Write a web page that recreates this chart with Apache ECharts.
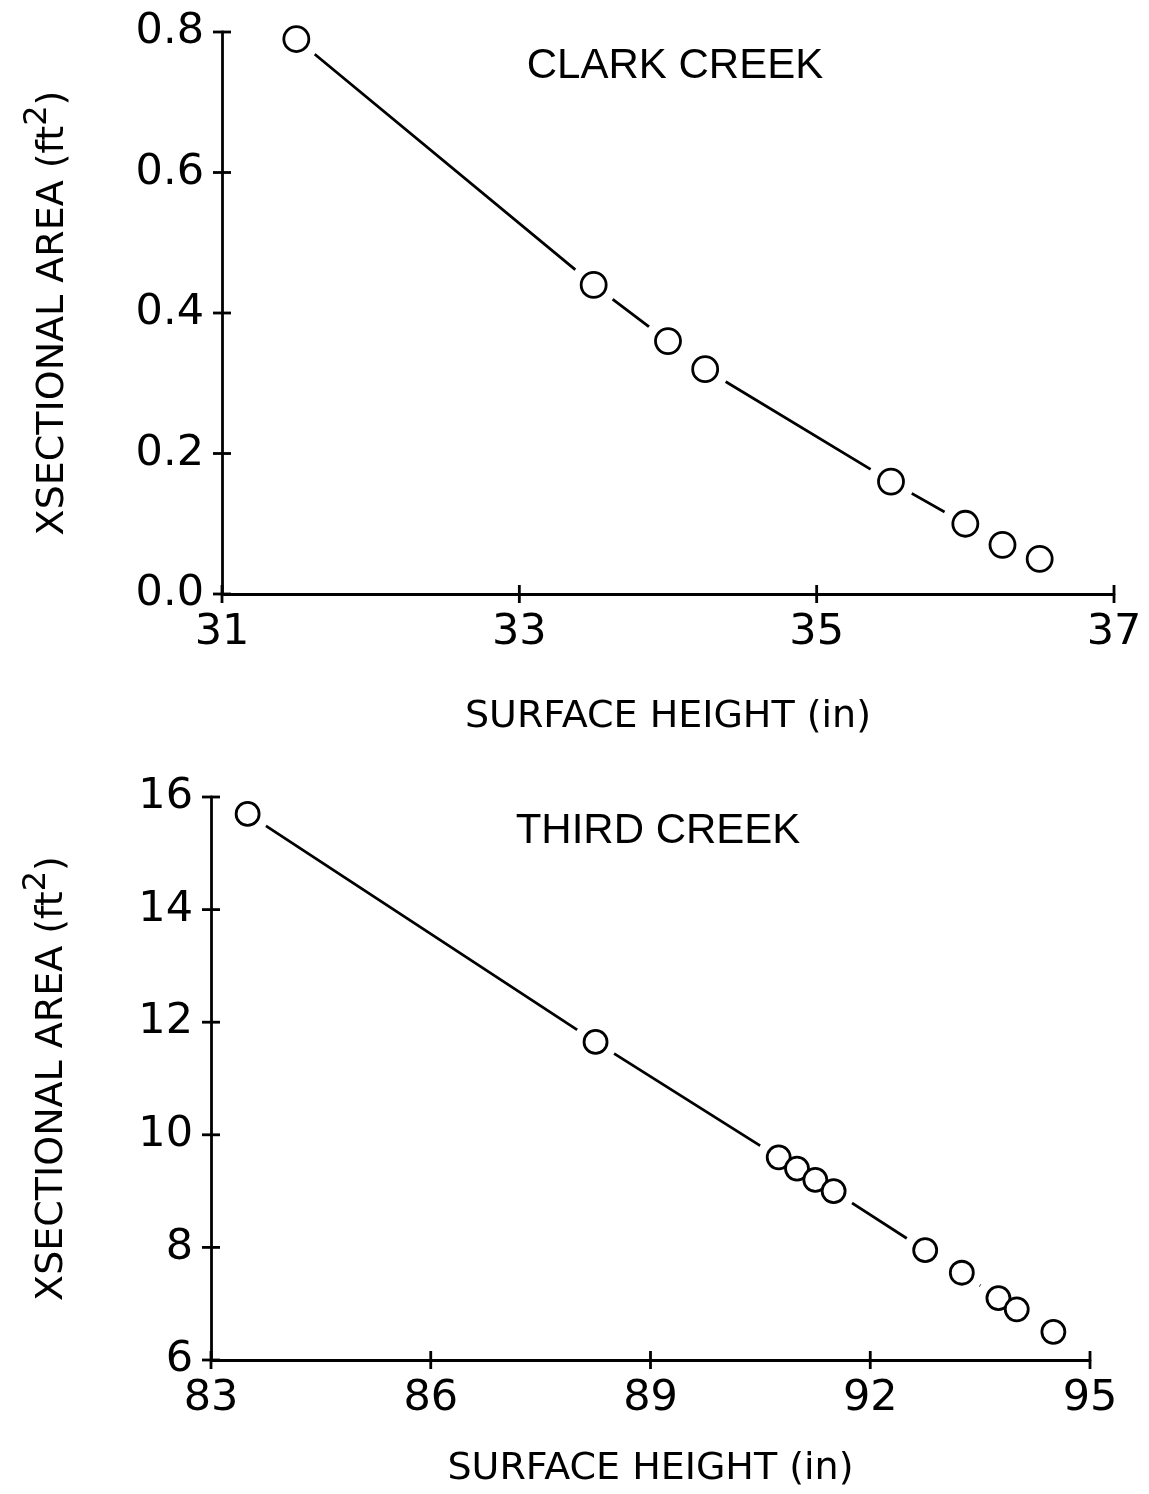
<!DOCTYPE html>
<html>
<head>
<meta charset="utf-8">
<title>Cross-sectional area vs surface height</title>
<script src="https://cdn.jsdelivr.net/npm/echarts@6/dist/echarts.min.js"></script>
<style>
  html, body { margin: 0; padding: 0; background: #ffffff; }
  #chart { width: 1149px; height: 1494px; }
</style>
</head>
<body>
<div id="chart"></div>
<script>
// ---- Clark Creek ----
const clarkHeight = [31.5, 33.5, 34.0, 34.25, 35.5, 36.0, 36.25, 36.5];
const clarkArea   = [0.79, 0.44, 0.36, 0.32, 0.16, 0.10, 0.07, 0.05];
const clarkXTicks = [31, 33, 35, 37];
const clarkYTicks = [0.0, 0.2, 0.4, 0.6, 0.8];

// ---- Third Creek ----
const thirdHeight = [83.5, 88.25, 90.75, 91.0, 91.25, 91.5, 92.75, 93.25, 93.75, 94.0, 94.5];
const thirdArea   = [15.7, 11.65, 9.6, 9.4, 9.2, 9.0, 7.95, 7.55, 7.1, 6.9, 6.5];
const thirdXTicks = [83, 86, 89, 92, 95];
const thirdYTicks = [6, 8, 10, 12, 14, 16];

// ---- Text ----
const panelTitles = ['CLARK CREEK', 'THIRD CREEK'];
const xAxisTitle = 'SURFACE HEIGHT (in)';
const yAxisTitle = '{t|XSECTIONAL AREA (ft}{s|2}{t|)}';

const FONT = 'DejaVu Sans';
const INK = '#000000';
const LW = 2.8;
const HALF_TICK = 9;   // tick marks cross the axis line, this far on each side

function zip(xs, ys) { return xs.map((x, i) => [x, ys[i]]); }

function range(ticks) {
  return { min: ticks[0], max: ticks[ticks.length - 1], interval: ticks[1] - ticks[0] };
}

const lineStyle = { color: INK, width: LW };

function xAxisFor(gridIndex, ticks, nameGap) {
  return Object.assign({
    type: 'value', gridIndex, position: 'bottom',
    name: xAxisTitle, nameLocation: 'middle', nameGap,
    nameTextStyle: { fontFamily: FONT, fontSize: 38, color: INK },
    axisLine: { show: true, onZero: false, lineStyle },
    axisTick: { show: false },
    axisLabel: { show: true, margin: 17, fontFamily: FONT, fontSize: 43, color: INK,
                 showMinLabel: true, showMaxLabel: true },
    splitLine: { show: false }
  }, range(ticks));
}
function yAxisFor(gridIndex, ticks, fmt, nameGap) {
  return Object.assign({
    type: 'value', gridIndex, position: 'left',
    name: yAxisTitle, nameLocation: 'middle', nameGap, nameRotate: 90,
    nameTextStyle: {
      fontFamily: FONT, fontSize: 38, color: INK,
      rich: {
        t: { fontFamily: FONT, fontSize: 38, color: INK, verticalAlign: 'bottom', lineHeight: 50 },
        s: { fontFamily: FONT, fontSize: 32, color: INK, verticalAlign: 'top', lineHeight: 50 }
      }
    },
    axisLine: { show: true, onZero: false, lineStyle },
    axisTick: { show: false },
    axisLabel: { show: true, margin: 18, fontFamily: FONT, fontSize: 43, color: INK,
                 formatter: fmt, showMinLabel: true, showMaxLabel: true },
    splitLine: { show: false }
  }, range(ticks));
}

// Crossing tick marks, placed at each tick value through the axis scales.
function crossTicks(axisIndex, xTicks, yTicks) {
  const x0 = xTicks[0], y0 = yTicks[0];
  const data = xTicks.map(v => [v, y0, 0]).concat(yTicks.map(v => [x0, v, 1]));
  return {
    type: 'custom', xAxisIndex: axisIndex, yAxisIndex: axisIndex, data,
    silent: true, clip: false, z: 4,
    renderItem(params, api) {
      const p = api.coord([api.value(0), api.value(1)]);
      const vertical = api.value(2) === 0;
      const shape = vertical
        ? { x1: p[0], y1: p[1] - HALF_TICK, x2: p[0], y2: p[1] + HALF_TICK }
        : { x1: p[0] - HALF_TICK, y1: p[1], x2: p[0] + HALF_TICK, y2: p[1] };
      return { type: 'line', shape, style: { stroke: INK, lineWidth: LW } };
    }
  };
}

// Each panel: connecting line, then white halos that open gaps round the
// markers, then the open circles.
function panelSeries(axisIndex, xs, ys, haloSize, dotSize) {
  const data = zip(xs, ys);
  return [
    { type: 'line', xAxisIndex: axisIndex, yAxisIndex: axisIndex, data,
      showSymbol: false, silent: true, z: 1, clip: false,
      lineStyle: { color: INK, width: LW, opacity: 1 } },
    { type: 'scatter', xAxisIndex: axisIndex, yAxisIndex: axisIndex, data,
      symbol: 'circle', symbolSize: haloSize, silent: true, z: 2, clip: false,
      itemStyle: { color: '#ffffff', borderWidth: 0, opacity: 1 } },
    { type: 'scatter', xAxisIndex: axisIndex, yAxisIndex: axisIndex, data,
      symbol: 'circle', symbolSize: dotSize, silent: true, z: 3, clip: false,
      itemStyle: { color: '#ffffff', borderColor: INK, borderWidth: LW, opacity: 1 } }
  ];
}

const chart = echarts.init(document.getElementById('chart'), null, { renderer: 'canvas' });

chart.setOption({
  animation: false,
  backgroundColor: '#ffffff',
  grid: [
    { left: 222, top: 32, width: 892, height: 562 },
    { left: 211, top: 797, width: 879, height: 563 }
  ],
  xAxis: [
    xAxisFor(0, clarkXTicks, 104),
    xAxisFor(1, thirdXTicks, 90)
  ],
  yAxis: [
    yAxisFor(0, clarkYTicks, v => v.toFixed(1), 150),
    yAxisFor(1, thirdYTicks, v => String(v), 140)
  ],
  graphic: [
    { type: 'text', x: 675, y: 66, silent: true,
      style: { text: panelTitles[0], font: '42px "Liberation Sans"', fill: INK,
               textAlign: 'center', textVerticalAlign: 'middle' } },
    { type: 'text', x: 658, y: 831, silent: true,
      style: { text: panelTitles[1], font: '42px "Liberation Sans"', fill: INK,
               textAlign: 'center', textVerticalAlign: 'middle' } }
  ],
  series: [
    crossTicks(0, clarkXTicks, clarkYTicks),
    crossTicks(1, thirdXTicks, thirdYTicks),
    ...panelSeries(0, clarkHeight, clarkArea, 48, 25),
    ...panelSeries(1, thirdHeight, thirdArea, 44, 23)
  ]
});
</script>
</body>
</html>
